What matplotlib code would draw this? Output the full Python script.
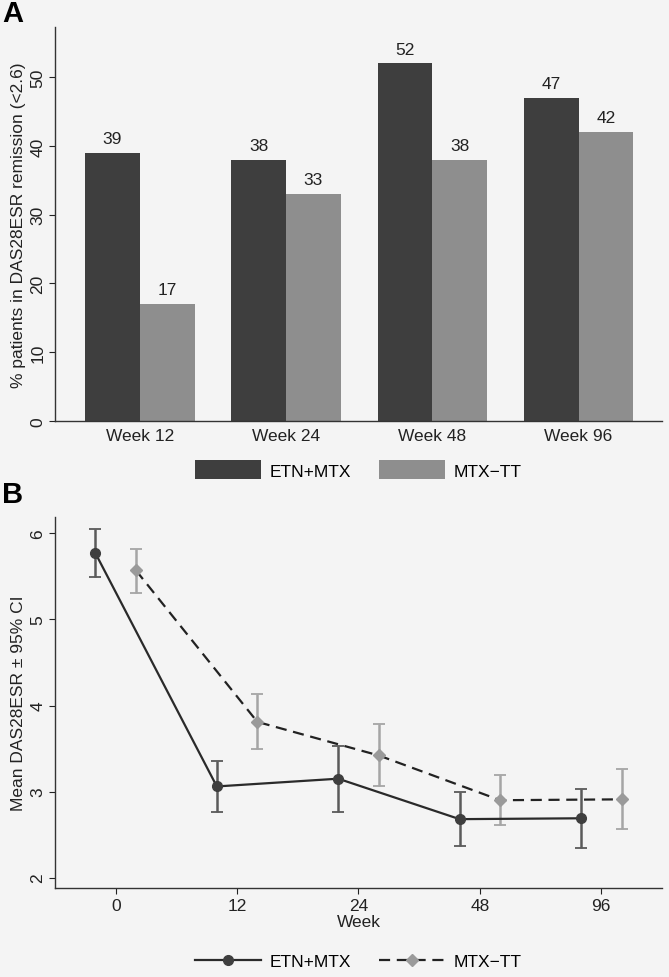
import matplotlib
matplotlib.use('Agg')
import matplotlib.pyplot as plt
import numpy as np

plt.rcParams['font.family'] = ['Liberation Sans', 'DejaVu Sans']

# Panel A data
weeks_a = ['Week 12', 'Week 24', 'Week 48', 'Week 96']
etn_pct = [39, 38, 52, 47]
mtx_pct = [17, 33, 38, 42]

# Panel B data
weeks_b = ['0', '12', '24', '48', '96']
etn_mean = [5.77, 3.06, 3.15, 2.68, 2.69]
etn_lo = [5.49, 2.76, 2.76, 2.37, 2.34]
etn_hi = [6.05, 3.35, 3.53, 3.00, 3.03]
mtx_mean = [5.57, 3.81, 3.42, 2.90, 2.91]
mtx_lo = [5.31, 3.50, 3.06, 2.61, 2.56]
mtx_hi = [5.82, 4.13, 3.79, 3.19, 3.26]

dark = '#3e3e3e'
light = '#8e8e8e'
bg = '#f4f4f4'
txt = '#222222'
fs = 12.5

fig = plt.figure(figsize=(6.69, 9.78), dpi=100)
fig.patch.set_facecolor(bg)

# ---- Panel A: bar chart
axA = fig.add_axes([0.0822, 0.5685, 0.9073, 0.4029])
axA.set_facecolor(bg)
x = np.arange(len(weeks_a))
w = 0.374
b1 = axA.bar(x - w / 2, etn_pct, w, color=dark, label='ETN+MTX')
b2 = axA.bar(x + w / 2, mtx_pct, w, color=light, label='MTX\u2212TT')
for bars in (b1, b2):
    for r in bars:
        axA.text(r.get_x() + r.get_width() / 2, r.get_height() + 1.0, f'{r.get_height():.0f}',
                 ha='center', va='bottom', fontsize=fs, color=txt)
axA.set_xlim(-0.58, 3.57)
axA.set_ylim(0, 57.3)
axA.set_xticks(x)
axA.set_xticklabels(weeks_a)
axA.set_yticks(np.arange(0, 51, 10))
for lab in axA.get_yticklabels():
    lab.set_rotation(90)
    lab.set_va('center')
axA.tick_params(axis='x', length=0, labelsize=fs, pad=5, colors=txt)
axA.tick_params(axis='y', length=4, labelsize=fs, colors=txt, width=0.8, pad=3)
axA.set_ylabel('% patients in DAS28ESR remission (<2.6)', fontsize=fs, color=txt, labelpad=3)
for s in ['top', 'right']:
    axA.spines[s].set_visible(False)
for s in ['left', 'bottom']:
    axA.spines[s].set_color('#333333')
    axA.spines[s].set_linewidth(1.0)
axA.legend(loc='center', bbox_to_anchor=(0.5, -0.124), ncol=2, frameon=False,
           fontsize=fs, handlelength=3.8, handleheight=1.3, handletextpad=0.5,
           columnspacing=1.6)
fig.text(0.003, 0.986, 'A', fontsize=21, fontweight='bold', va='center')

# ---- Panel B: line chart with CI
axB = fig.add_axes([0.0822, 0.0910, 0.9073, 0.3793])
axB.set_facecolor(bg)
xb = np.arange(len(weeks_b))
off = 0.167
em = np.array(etn_mean)
mm = np.array(mtx_mean)
axB.errorbar(xb - off, em, yerr=[em - np.array(etn_lo), np.array(etn_hi) - em],
             fmt='none', ecolor='#5a5a5a', elinewidth=1.8, capsize=4, capthick=1.3, zorder=2)
axB.errorbar(xb + off, mm, yerr=[mm - np.array(mtx_lo), np.array(mtx_hi) - mm],
             fmt='none', ecolor='#a5a5a5', elinewidth=1.8, capsize=4, capthick=1.3, zorder=2)
axB.plot(xb - off, em, '-', color='#2a2a2a', lw=1.6, marker='o', ms=7,
         mfc='#3e3e3e', mec='#3e3e3e', label='ETN+MTX', zorder=3)
axB.plot(xb + off, mm, '--', color='#222222', lw=1.6, dashes=(5, 3), marker='D', ms=6,
         mfc='#9a9a9a', mec='#9a9a9a', label='MTX\u2212TT', zorder=3)
axB.set_xlim(-0.5, 4.5)
axB.set_ylim(1.88, 6.19)
axB.set_xticks(xb)
axB.set_xticklabels(weeks_b)
axB.set_yticks([2, 3, 4, 5, 6])
for lab in axB.get_yticklabels():
    lab.set_rotation(90)
    lab.set_va('center')
axB.tick_params(axis='both', length=4, labelsize=fs, colors=txt, width=0.8, pad=3)
axB.set_xlabel('Week', fontsize=fs, color=txt, labelpad=1)
axB.set_ylabel('Mean DAS28ESR \u00b1 95% CI', fontsize=fs, color=txt, labelpad=3)
for s in ['top', 'right']:
    axB.spines[s].set_visible(False)
for s in ['left', 'bottom']:
    axB.spines[s].set_color('#333333')
    axB.spines[s].set_linewidth(1.0)
axB.legend(loc='center', bbox_to_anchor=(0.5, -0.199), ncol=2, frameon=False,
           fontsize=fs, handlelength=3.8, handletextpad=0.5, columnspacing=1.6)
fig.text(0.003, 0.494, 'B', fontsize=21, fontweight='bold', va='center')

plt.savefig('out.png', dpi=100, facecolor=bg)
